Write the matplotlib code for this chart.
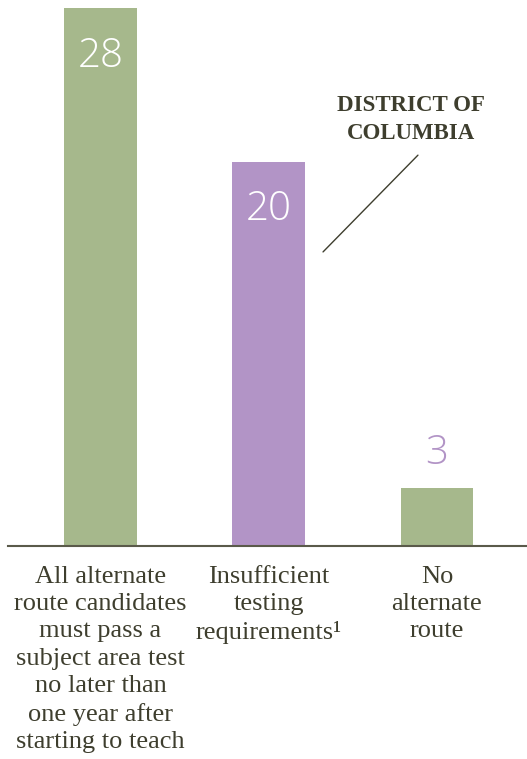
import matplotlib.pyplot as plt
import numpy as np

categories = ['All alternate\nroute candidates\nmust pass a\nsubject area test\nno later than\none year after\nstarting to teach',
              'Insufficient\ntesting\nrequirements\u00b9',
              'No\nalternate\nroute']
values = [28, 20, 3]
colors = ['#a6b88c', '#b294c6', '#a6b88c']

green = '#a6b88c'
purple = '#b294c6'
ink = '#3e3e2e'

fig = plt.figure(figsize=(5.27, 7.59), dpi=100)
ax = fig.add_axes([8/527, 1 - 545.7/759, 519/527, 545.7/759])

x = np.arange(len(values))
bars = ax.bar(x, values, width=0.43, color=colors)

ax.set_xlim(-0.549, 2.535)
ax.set_ylim(0, 28.42)

# numbers: inside the tall bars, above the short one
for b, v in zip(bars, values):
    cx = b.get_x() + b.get_width() / 2
    if v > 10:
        ax.text(cx, v - 2.5, str(v), ha='center', va='center', color='white',
                fontsize=29, family='Open Sans', fontweight='light')
    else:
        ax.text(cx, v + 1.8, str(v), ha='center', va='center', color=purple,
                fontsize=29, family='Open Sans', fontweight='light')

for xi, lab in zip(x, categories):
    ax.text(xi, -1.05, lab, ha='center', va='top', color=ink,
            fontsize=19, family='Liberation Serif', linespacing=1.31)

# callout for DC
ax.annotate('', xy=(1.323, 15.3), xytext=(1.887, 20.34),
            arrowprops=dict(arrowstyle='-', color=ink, lw=1.0,
                            shrinkA=0, shrinkB=0))
ax.text(1.846, 22.2, 'DISTRICT OF\nCOLUMBIA', ha='center', va='center',
        color=ink, fontsize=16.5, family='Liberation Serif', fontweight='bold',
        linespacing=1.42)

for s in ['top', 'right', 'left']:
    ax.spines[s].set_visible(False)
ax.spines['bottom'].set_color('#5a5a4a')
ax.spines['bottom'].set_linewidth(1.5)
ax.set_xticks([])
ax.set_yticks([])

fig.savefig('out.png', dpi=100)
